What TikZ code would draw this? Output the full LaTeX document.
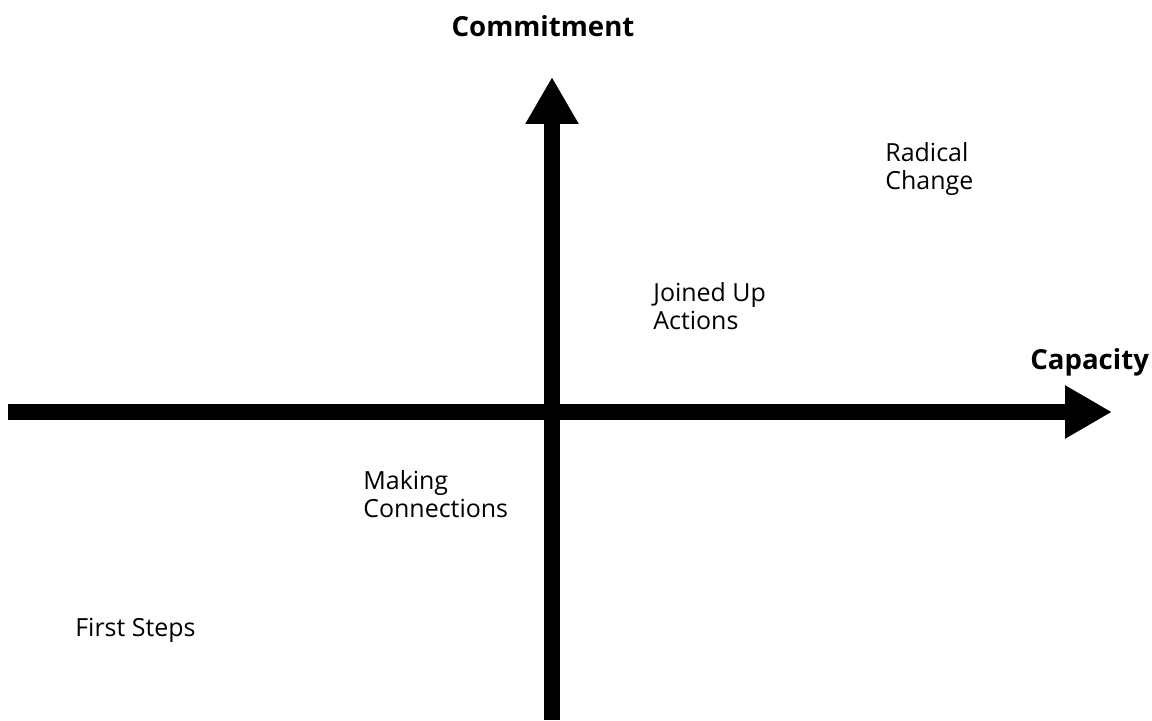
\documentclass[tikz,border=0pt]{standalone}
\usepackage{fontspec}
\setmainfont{Open Sans}
\usetikzlibrary{arrows.meta}

\begin{document}
\begin{tikzpicture}[
    axis/.style={-{Triangle[length=0.94cm, width=1.0cm]}, line width=0.32cm},
    zone/.style={anchor=base west, inner sep=0pt, align=left, font=\fontsize{14.2}{16.2}\selectfont},
    axlbl/.style={inner sep=0pt, font=\fontsize{15.7}{18}\selectfont\bfseries}
]
\useasboundingbox (0,0) rectangle (23.04,14.4);

% axis ends
\coordinate (xstart) at (0.16,6.16);
\coordinate (xend) at (22.24,6.16);
\coordinate (ystart) at (11.04,0);
\coordinate (yend) at (11.04,12.86);

\draw[axis] (xstart) -- (xend);
\draw[axis] (ystart) -- (yend);

\node[axlbl, anchor=base] (commit) at (10.86,13.66) {Commitment};
\node[axlbl, anchor=base west] (capac) at (20.6,7.0) {Capacity};

% quadrants (anchored on the last line's baseline)
\node[zone] (radical) at (17.7,10.6) {Radical\\Change};
\node[zone] (joined) at (13.06,7.8) {Joined Up\\Actions};
\node[zone] (making) at (7.26,4.05) {Making\\Connections};
\node[zone] (first) at (1.5,1.666) {First Steps};
\end{tikzpicture}
\end{document}
